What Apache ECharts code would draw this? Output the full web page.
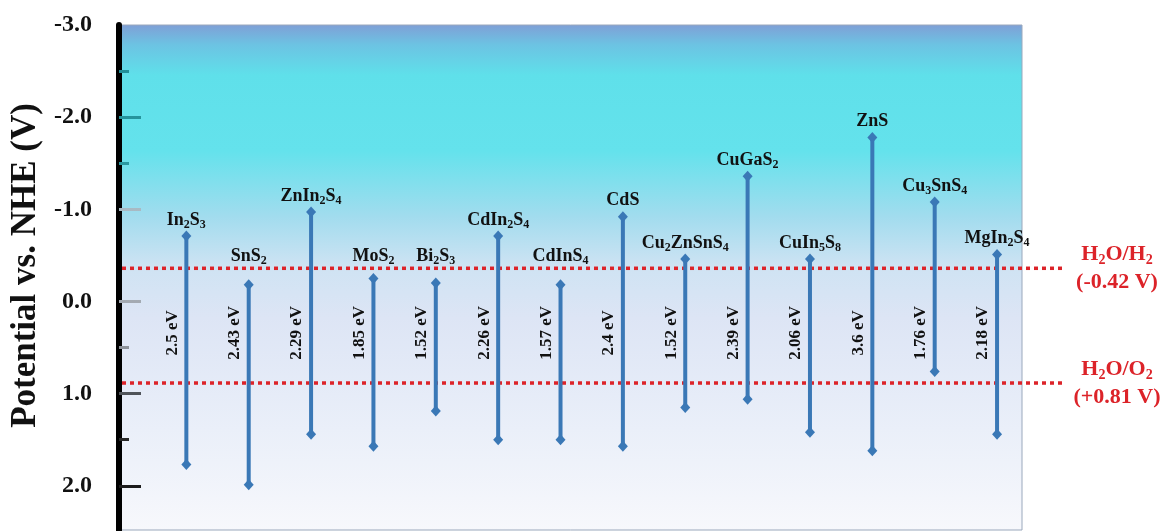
<!DOCTYPE html>
<html><head><meta charset="utf-8">
<script src="https://cdn.jsdelivr.net/npm/echarts@6/dist/echarts.min.js"></script>
<style>html,body{margin:0;padding:0;background:#fff}#c{width:1169px;height:531px}</style>
</head><body><div id="c"></div>
<script>
// ---- data ----
const materials = ['In2S3','SnS2','ZnIn2S4','MoS2','Bi2S3','CdIn2S4','CdInS4','CdS','Cu2ZnSnS4','CuGaS2','CuIn5S8','ZnS','Cu3SnS4','MgIn2S4'];
const conductionBand = [-0.71,-0.18,-0.97,-0.25,-0.20,-0.71,-0.18,-0.92,-0.46,-1.36,-0.46,-1.78,-1.08,-0.51];
const valenceBand    = [ 1.77, 1.99, 1.44, 1.57, 1.19, 1.50, 1.50, 1.57, 1.15, 1.06, 1.42, 1.62, 0.76, 1.44];
const gapLabels = ['2.5 eV','2.43 eV','2.29 eV','1.85 eV','1.52 eV','2.26 eV','1.57 eV','2.4 eV','1.52 eV','2.39 eV','2.06 eV','3.6 eV','1.76 eV','2.18 eV'];
const redoxNames  = ['H2O/H2','H2O/O2'];
const redoxTexts  = ['(-0.42 V)','(+0.81 V)'];
const redoxLevels = [-0.36, 0.885];
const yLabelValues = [-3, -2, -1, 0, 1, 2];
const yMajorTicks = [-2, -1, 0, 1, 2];
const yMinorTicks = [-2.5, -1.5, 0.5, 1.5];

// ---- styling ----
const SERIF = "'Liberation Serif','Times New Roman',serif";
const BLUE = '#3a78b6';
const RED = '#dc2329';
const GAP_LABEL_LEVEL = 0.34;

function formula(s){ return s.replace(/(\d+)/g, '{s|$1}'); }

const tickGrad = {type:'linear', x:0, y:25, x2:0, y2:530, global:true, colorStops:[
  {offset:0, color:'#1d8a94'},{offset:0.30, color:'#2b9aa2'},{offset:0.34, color:'#a9bcc6'},
  {offset:0.56, color:'#a3a9b1'},{offset:0.66, color:'#878c93'},{offset:0.72, color:'#555a60'},
  {offset:0.8, color:'#2a2a2a'},{offset:1, color:'#111'}]};

const bgGrad = {type:'linear', x:0, y:0, x2:0, y2:1, colorStops:[
  {offset:0, color:'#7f9fd6'},{offset:0.04, color:'#6cc3e3'},{offset:0.10, color:'#5fe0ea'},
  {offset:0.25, color:'#64e2ec'},{offset:0.38, color:'#a2dcee'},{offset:0.48, color:'#cfe3f3'},
  {offset:0.58, color:'#dde5f5'},{offset:0.8, color:'#eaeff9'},{offset:1, color:'#f7f8fc'}]};

const chart = echarts.init(document.getElementById('c'), null, {renderer:'canvas'});

const bandData = materials.map((m, i) => [i, conductionBand[i], valenceBand[i]]);
const redoxData = redoxLevels.map((v, i) => [0, v]);

function diamond(p){
  return {type:'polygon', shape:{points:[[p[0],p[1]-5.5],[p[0]+5,p[1]],[p[0],p[1]+5.5],[p[0]-5,p[1]]]}, style:{fill:BLUE}};
}

chart.setOption({
  animation:false,
  grid:{left:118, right:147, top:25, bottom:1, show:true, backgroundColor:bgGrad, borderColor:'#9aa8bc', borderWidth:1},
  xAxis:{type:'value', min:-1.08, max:13.40, show:false},
  yAxis:[{
    type:'value', inverse:true, min:-3, max:2.48, position:'left',
    axisLine:{show:true, onZero:false, lineStyle:{color:'#000', width:6}},
    axisTick:{show:true, inside:true, length:22, customValues:yMajorTicks, lineStyle:{color:tickGrad, width:3}},
    axisLabel:{show:true, customValues:yLabelValues, formatter:v => Number(v).toFixed(1), margin:27,
      fontFamily:SERIF, fontWeight:'bold', fontSize:24, color:'#111', padding:[0,0,10,0]},
    splitLine:{show:false},
    name:'Potential vs. NHE (V)', nameLocation:'middle', nameRotate:90, nameGap:76,
    nameTextStyle:{fontFamily:SERIF, fontWeight:'bold', fontSize:35, color:'#111', padding:[0,0,0,24]}
  },{
    type:'value', inverse:true, min:-3, max:2.48, position:'left', offset:0,
    axisLine:{show:false, onZero:false},
    axisTick:{show:true, inside:true, length:10, customValues:yMinorTicks, lineStyle:{color:tickGrad, width:3}},
    axisLabel:{show:false}, splitLine:{show:false}
  }],
  series:[{
    type:'custom', z:2, clip:false, silent:true,
    data:redoxData, encode:{x:0, y:1},
    renderItem(params, api){
      const cs = params.coordSys;
      const p = api.coord([0, api.value(1)]);
      const i = params.dataIndex;
      const xr = cs.x + cs.width;
      const font = {fontFamily:SERIF, fontWeight:'bold'};
      return {type:'group', children:[
        {type:'line', shape:{x1:cs.x+3, y1:p[1], x2:xr+40, y2:p[1]}, style:{stroke:RED, lineWidth:3.5, lineDash:[4,4]}},
        {type:'text', x:xr+95, y:p[1]-14, style:Object.assign({text:formula(redoxNames[i]), fill:RED, fontSize:22, align:'center', verticalAlign:'middle',
          rich:{s:{fontFamily:SERIF, fontWeight:'bold', fontSize:14, fill:RED, padding:[12,0,0,0]}}}, font)},
        {type:'text', x:xr+95, y:p[1]+14, style:Object.assign({text:redoxTexts[i], fill:RED, fontSize:22, align:'center', verticalAlign:'middle'}, font)}
      ]};
    }
  },{
    type:'custom', z:3, clip:false, silent:true,
    data:bandData, encode:{x:0, y:[1,2]},
    renderItem(params, api){
      const i = params.dataIndex;
      const x = api.value(0);
      const top = api.coord([x, api.value(1)]);
      const bot = api.coord([x, api.value(2)]);
      const h2 = api.coord([x, redoxLevels[0]]);
      const mid = api.coord([x, GAP_LABEL_LEVEL]);
      const labelY = Math.min(top[1] - 16, h2[1] - 12);
      return {type:'group', children:[
        {type:'line', shape:{x1:top[0], y1:top[1], x2:bot[0], y2:bot[1]}, style:{stroke:BLUE, lineWidth:4}},
        diamond(top), diamond(bot),
        {type:'text', x:top[0], y:labelY, style:{text:formula(materials[i]), fill:'#111',
          fontFamily:SERIF, fontWeight:'bold', fontSize:18, align:'center', verticalAlign:'middle',
          rich:{s:{fontFamily:SERIF, fontWeight:'bold', fontSize:12, fill:'#111', padding:[9,0,0,0]}}}},
        {type:'text', x:top[0]-14, y:mid[1], rotation:Math.PI/2, style:{text:gapLabels[i], fill:'#111',
          fontFamily:SERIF, fontWeight:'bold', fontSize:17, align:'center', verticalAlign:'middle'}}
      ]};
    }
  }]
});
</script>
</body></html>
